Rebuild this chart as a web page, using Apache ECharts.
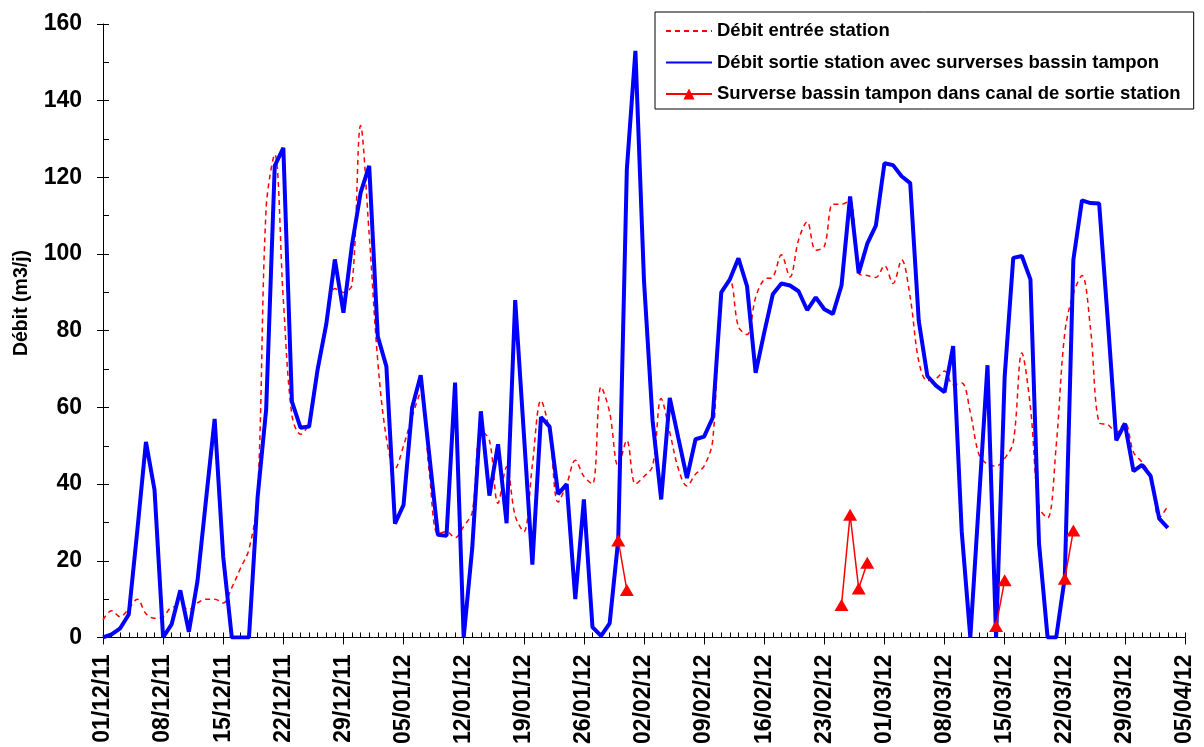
<!DOCTYPE html>
<html>
<head>
<meta charset="utf-8">
<script src="https://cdn.jsdelivr.net/npm/echarts@6/dist/echarts.min.js"></script>
<style>
  html, body { margin: 0; padding: 0; background: #fff; }
  #chart { width: 1204px; height: 747px; }
</style>
</head>
<body>
<div id="chart"></div>
<script>
// daily values from 01/12/11 (index 0) to 03/04/12
const debitEntree = [
  4.6, 7, 5.4, 7.5, 10, 6.2, 5, 5.4, 7.9, 8.1, 7.3, 9, 10, 10, 9, 13, 18, 23, 37, 112,
  126, 88, 58, 53, 56, 70, 81, 91, 90, 92, 133.5, 105, 72, 52, 44, 50, 57.6, 63.8, 43, 27,
  27.6, 26, 29, 32.7, 54, 51.4, 35, 44.5, 31.7, 27.6, 45, 61.8, 53.5, 35.3, 40, 46.2, 42, 40, 65.4, 58.7,
  44.7, 51.4, 40, 42, 44.7, 62.3, 53.5, 44, 39.5, 42.6, 44.7, 51.4, 90, 93, 81, 79, 88.7, 93.4, 94, 99.8,
  94, 103.7, 108.4, 101, 102, 113, 113, 114, 95, 94.4, 93.9, 97, 92.3, 98.5, 88.7, 72, 67, 67.5, 69.5, 65.9,
  66.4, 58.7, 47.8, 45.2, 44.7, 46.7, 50.9, 74.2, 60, 34, 31.2, 50, 79.4, 89.7, 94.4, 80.4, 56, 55.5, 53.5, 56,
  48.3, 45.7, 42, 31.2, 34.3
];
const debitSortie = [
  0, 0.8, 2.4, 6, 28, 51, 38.5, 0, 3.5, 12.3, 1.5, 14.7, 36, 57, 21, 0, 0, 0, 36.5, 59.5,
  123, 127.7, 61.5, 54.7, 55, 70, 81.7, 98.6, 84.7, 102.5, 116, 123, 78.5, 70.7, 29.7, 34.6, 60, 68.4, 47.5, 26.8,
  26.5, 66.5, 0, 23.4, 59, 37, 50.4, 29.8, 88, 53.5, 19, 57.5, 55, 37.4, 40, 10, 36, 2.7, 0.4, 3.7,
  25.5, 122, 153, 93, 56.6, 36, 62.5, 52, 41.6, 51.7, 52.4, 57.3, 90, 93.4, 98.9, 91.6, 69, 79.5, 89.5, 92.3,
  91.8, 90.3, 85.4, 88.7, 85.6, 84.4, 91.8, 115, 95, 102.7, 107.4, 123.7, 123.2, 120.3, 118.5, 82.5, 68.2, 65.7, 64, 76,
  27.6, 0, 35.5, 71, 0, 68, 99, 99.5, 93.4, 24.5, 0, 0, 15.6, 98.5, 114, 113.3, 113.2, 83, 51.4, 55.8,
  43.4, 45, 42.1, 31, 28.6
];
// overflow of the buffer tank: day index and value
const surverseJours = [60, 61, 86, 87, 88, 89, 104, 105, 112, 113];
const surverseValeurs = [25.3, 12.4, 8.5, 32, 12.8, 19.5, 3, 14.9, 15.3, 27.9];

const nbJours = 127; // 01/12/11 -> 05/04/12
const categories = [];
for (let i = 0; i < nbJours; i++) {
  const d = new Date(2011, 11, 1 + i);
  const dd = String(d.getDate()).padStart(2, '0');
  const mm = String(d.getMonth() + 1).padStart(2, '0');
  const yy = String(d.getFullYear()).slice(2);
  categories.push(dd + '/' + mm + '/' + yy);
}

const surverse = new Array(nbJours).fill(null);
for (let i = 0; i < surverseJours.length; i++) {
  surverse[surverseJours[i]] = surverseValeurs[i];
}

const font = 'Liberation Sans, Arial, sans-serif';
const myChart = echarts.init(document.getElementById('chart'));

myChart.setOption({
  animation: false,
  backgroundColor: '#fff',
  grid: { left: 103, right: 19, top: 24, bottom: 108 },
  legend: {
    orient: 'vertical',
    left: 655,
    top: 12,
    padding: [9, 13, 5, 10],
    borderColor: '#000',
    borderWidth: 1,
    backgroundColor: '#fff',
    itemWidth: 46,
    itemHeight: 14,
    itemGap: 11.5,
    textStyle: { fontFamily: font, fontWeight: 'bold', fontSize: 18.5, color: '#000', lineHeight: 20 },
    data: [
      { name: 'Débit entrée station', itemStyle: { opacity: 0 } },
      { name: 'Débit sortie station avec surverses bassin tampon', itemStyle: { opacity: 0 } },
      { name: 'Surverse bassin tampon dans canal de sortie station' }
    ]
  },
  graphic: [
    {
      type: 'text',
      x: 22,
      y: 303,
      rotation: Math.PI / 2,
      style: {
        text: 'Débit (m3/j)',
        font: 'bold 19.5px ' + font,
        fill: '#000',
        align: 'center',
        verticalAlign: 'middle'
      }
    }
  ],
  xAxis: [
    {
      type: 'category',
      data: categories,
      boundaryGap: false,
      axisLine: { lineStyle: { color: '#000', width: 1 } },
      axisTick: { interval: 6, length: 7, lineStyle: { color: '#000' } },
      axisLabel: {
        interval: 6,
        rotate: 90,
        margin: 17,
        fontFamily: font,
        fontWeight: 'bold',
        fontSize: 23,
        color: '#000'
      },
      splitLine: { show: false }
    },
    {
      // daily minor ticks pointing inside
      type: 'category',
      data: categories,
      position: 'bottom',
      boundaryGap: false,
      axisLine: { show: false },
      axisTick: { interval: 0, inside: true, length: 5, lineStyle: { color: '#000' } },
      axisLabel: { show: false },
      splitLine: { show: false }
    }
  ],
  yAxis: [
    {
      type: 'value',
      min: 0,
      max: 160,
      interval: 20,
      axisLine: { show: true, lineStyle: { color: '#000', width: 1 } },
      axisTick: { show: true, length: 6, lineStyle: { color: '#000' } },
      axisLabel: { margin: 21, fontFamily: font, fontWeight: 'bold', fontSize: 23, color: '#000' },
      splitLine: { show: false }
    },
    {
      type: 'value',
      position: 'left',
      min: 0,
      max: 160,
      interval: 10,
      axisLine: { show: false },
      axisTick: { show: true, inside: true, length: 6, lineStyle: { color: '#000' } },
      axisLabel: { show: false },
      splitLine: { show: false }
    }
  ],
  series: [
    {
      name: 'Débit entrée station',
      type: 'line',
      data: debitEntree,
      symbol: 'none',
      smooth: 0.35,
      color: '#ff0000',
      lineStyle: { color: '#ff0000', width: 1.5, type: [5, 4] },
      z: 2
    },
    {
      name: 'Débit sortie station avec surverses bassin tampon',
      type: 'line',
      data: debitSortie,
      symbol: 'none',
      color: '#0000ff',
      lineStyle: { color: '#0000ff', width: 4 },
      z: 3
    },
    {
      name: 'Surverse bassin tampon dans canal de sortie station',
      type: 'line',
      data: surverse,
      connectNulls: false,
      symbol: 'triangle',
      symbolSize: [14, 12],
      showSymbol: true,
      showAllSymbol: true,
      color: '#ff0000',
      itemStyle: { color: '#ff0000' },
      lineStyle: { color: '#ff0000', width: 1.5 },
      z: 4
    }
  ]
});
</script>
</body>
</html>
